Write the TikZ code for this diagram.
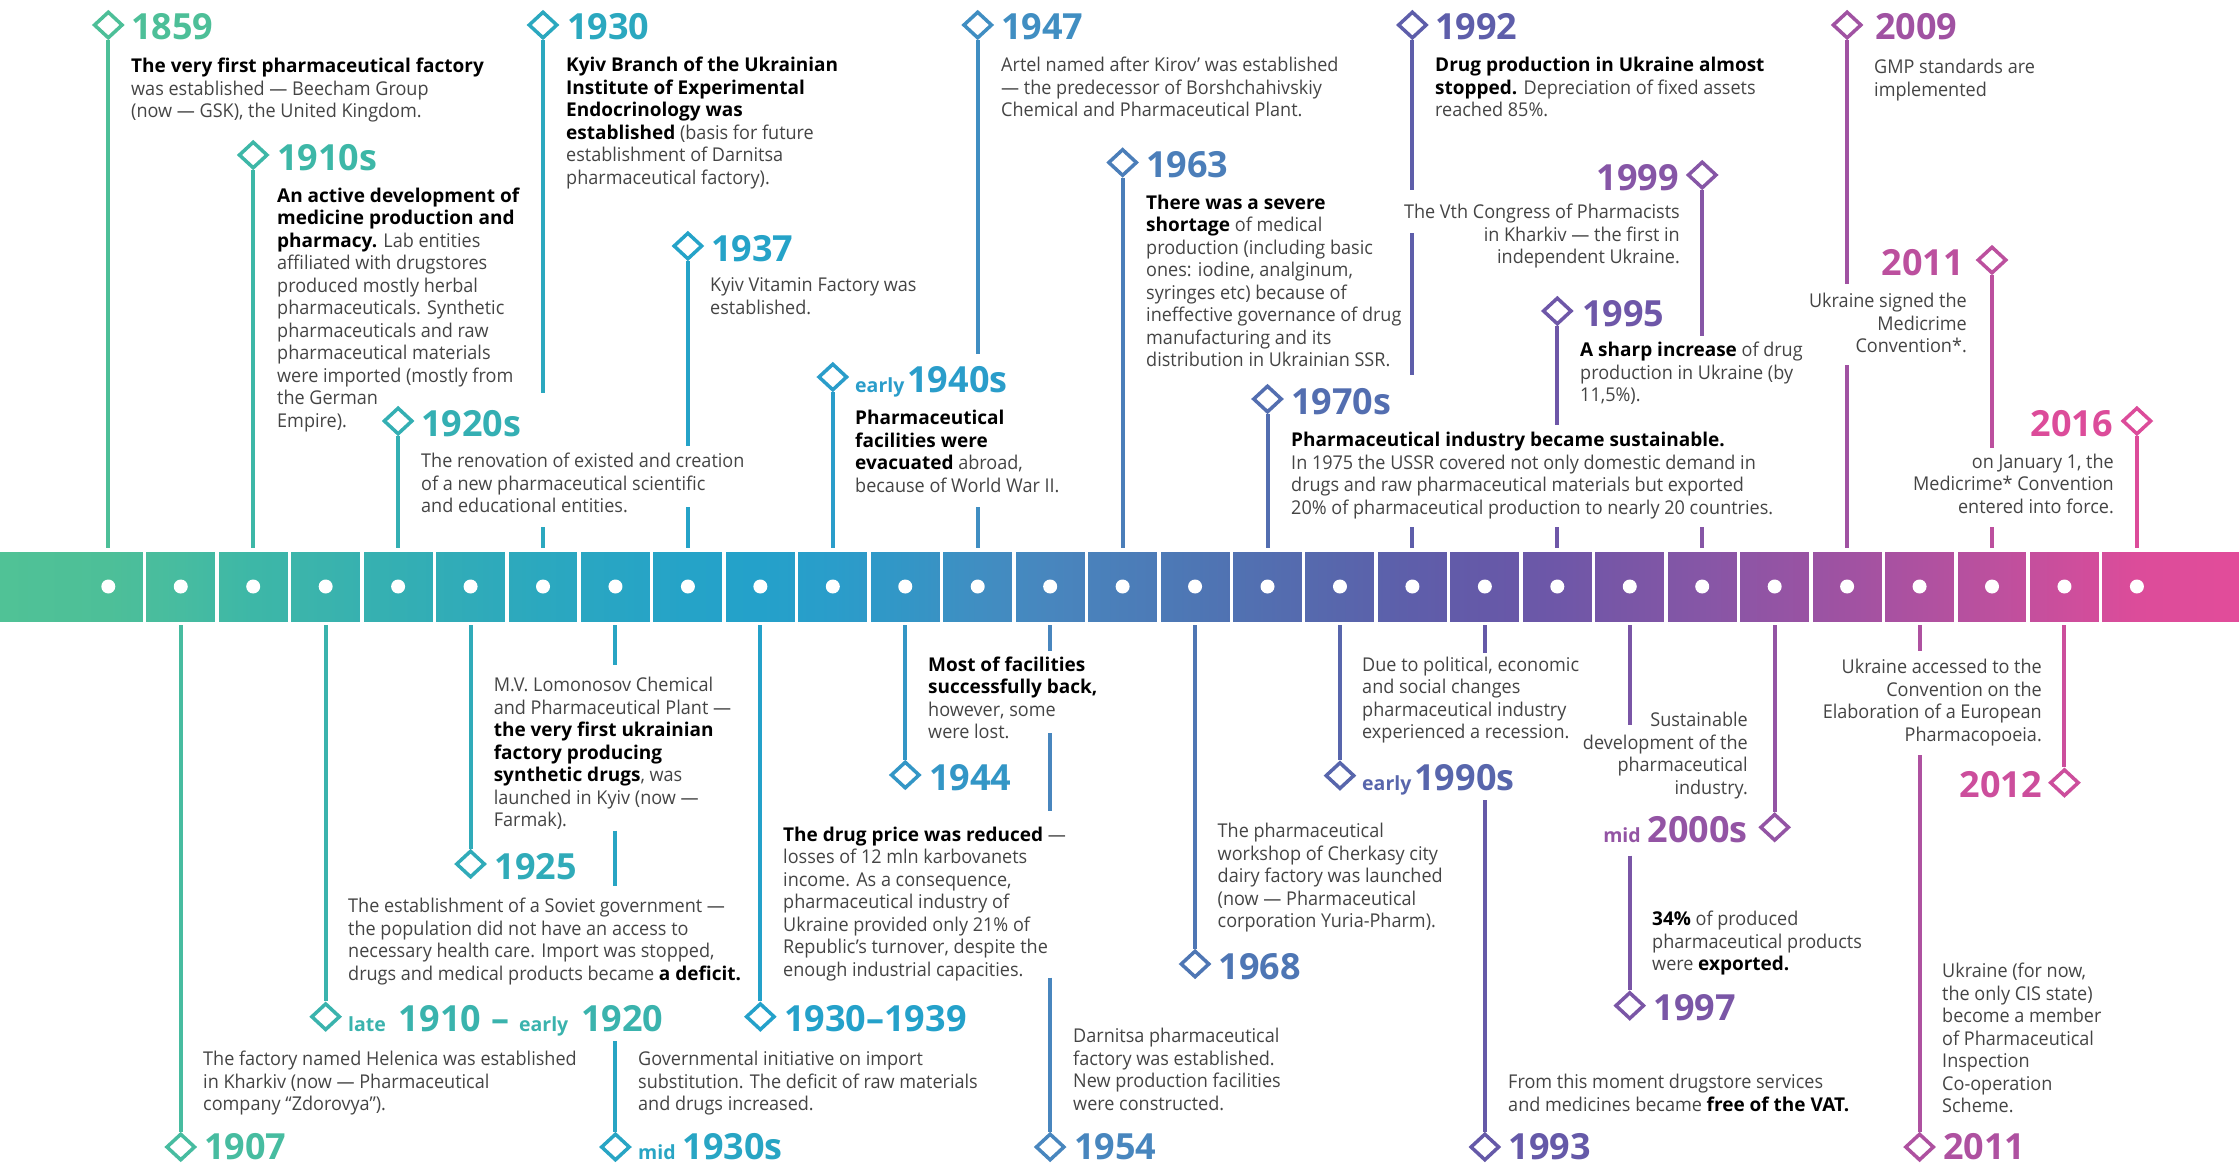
\documentclass[tikz,border=0pt]{standalone}
\usepackage{fontspec}
\setmainfont{Open Sans}[UprightFeatures={FakeStretch=0.95}]
\usetikzlibrary{shapes.geometric}
\definecolor{bodyc}{HTML}{444444}
\definecolor{cS}{HTML}{50C296}
\definecolor{cE}{HTML}{E24C9A}
\definecolor{c0}{HTML}{4DBF98}
\definecolor{c1}{HTML}{47BCA0}
\definecolor{c2}{HTML}{3DB7A7}
\definecolor{c3}{HTML}{3AB3AD}
\definecolor{c4}{HTML}{34AFB3}
\definecolor{c5}{HTML}{30ABB9}
\definecolor{c6}{HTML}{2BA8BF}
\definecolor{c7}{HTML}{28A5C4}
\definecolor{c8}{HTML}{25A3C8}
\definecolor{c9}{HTML}{24A1CA}
\definecolor{c10}{HTML}{2A9DCA}
\definecolor{c11}{HTML}{3396C6}
\definecolor{c12}{HTML}{408EC2}
\definecolor{c13}{HTML}{4886BE}
\definecolor{c14}{HTML}{4B7EB9}
\definecolor{c15}{HTML}{4E76B4}
\definecolor{c16}{HTML}{536EB0}
\definecolor{c17}{HTML}{5866AC}
\definecolor{c18}{HTML}{5E5EAA}
\definecolor{c19}{HTML}{6559A8}
\definecolor{c20}{HTML}{6E57A8}
\definecolor{c21}{HTML}{7A56A6}
\definecolor{c22}{HTML}{8656A6}
\definecolor{c23}{HTML}{9354A4}
\definecolor{c24}{HTML}{A052A2}
\definecolor{c25}{HTML}{AE51A0}
\definecolor{c26}{HTML}{BC509E}
\definecolor{c27}{HTML}{CC4E9C}
\definecolor{c28}{HTML}{DC4C9A}
\pgfdeclarehorizontalshading{bandshade}{100bp}{color(0bp)=(cS); color(25bp)=(cS);
 color(27.42bp)=(c0); color(29.04bp)=(c1); color(30.65bp)=(c2); color(32.27bp)=(c3);
 color(33.89bp)=(c4); color(35.51bp)=(c5); color(37.13bp)=(c6); color(38.74bp)=(c7);
 color(40.36bp)=(c8); color(41.98bp)=(c9); color(43.60bp)=(c10); color(45.22bp)=(c11);
 color(46.83bp)=(c12); color(48.45bp)=(c13); color(50.07bp)=(c14); color(51.69bp)=(c15);
 color(53.30bp)=(c16); color(54.92bp)=(c17); color(56.54bp)=(c18); color(58.16bp)=(c19);
 color(59.78bp)=(c20); color(61.39bp)=(c21); color(63.01bp)=(c22); color(64.63bp)=(c23);
 color(66.25bp)=(c24); color(67.87bp)=(c25); color(69.48bp)=(c26); color(71.10bp)=(c27);
 color(72.72bp)=(c28); color(75bp)=(cE); color(100bp)=(cE)}
\newcommand{\smallpre}[1]{{\fontsize{19.5}{22}\selectfont #1}}
\newcommand{\bk}[1]{\textbf{\color{black}#1}}
\tikzset{
  yr/.style={inner sep=0, anchor=base west, text depth=0pt, font=\fontsize{36}{40}\selectfont\bfseries},
  yrr/.style={yr, anchor=base east},
  txt/.style={inner sep=0, anchor=north west, align=left, font=\fontsize{19}{22.5}\selectfont, text=bodyc, execute at begin node=\strut},
  txtr/.style={txt, anchor=north east, align=right},
  dia/.style={diamond, draw, line width=3.5pt, minimum width=29pt, minimum height=27pt, inner sep=0, fill=white},
  stem/.style={line width=4pt},
}
\begin{document}
\begin{tikzpicture}[x=1pt,y=-1pt]
\useasboundingbox (0,0) rectangle (2239,1164);
% band
\shade[shading=bandshade] (0,552) rectangle (2239,621);
\foreach \k in {0,...,27} \draw[white, line width=3.5pt] ({144.5+72.45*\k},551) -- ({144.5+72.45*\k},622);
\foreach \k in {0,...,28} \fill[white] ({108.3+72.45*\k},586.5) circle (7);

% ---------- band anchor coordinates ----------
\foreach \i/\x in {0/108.3,2/253.2,4/398.1,6/543,8/687.9,10/832.8,12/977.7,14/1122.6,16/1267.5,18/1412.4,20/1557.3,22/1702.2,24/1847.1,26/1992,28/2136.9}
  \coordinate (b\i) at (\x,548);
\foreach \i/\x in {1/180.75,3/325.65,5/470.55,7/615.45,9/760.35,11/905.25,13/1050.15,15/1195.05,17/1339.95,19/1484.85,21/1629.75,23/1774.65,25/1919.55,27/2064.45}
  \coordinate (b\i) at (\x,625);

% ---------- diamonds ----------
\node[dia, draw=c0] (d0) at (108.3,25) {};
\node[dia, draw=c2] (d2) at (253.2,155) {};
\node[dia, draw=c4] (d4) at (398.1,421) {};
\node[dia, draw=c6] (d6) at (543,25) {};
\node[dia, draw=c8] (d8) at (687.9,246) {};
\node[dia, draw=c10] (d10) at (832.8,377) {};
\node[dia, draw=c12] (d12) at (977.7,25) {};
\node[dia, draw=c14] (d14) at (1122.6,162.5) {};
\node[dia, draw=c16] (d16) at (1267.5,399) {};
\node[dia, draw=c18] (d18) at (1412.4,25) {};
\node[dia, draw=c20] (d20) at (1557.3,311) {};
\node[dia, draw=c22] (d22) at (1702.2,175) {};
\node[dia, draw=c24] (d24) at (1847.1,25) {};
\node[dia, draw=c26] (d26) at (1992,260) {};
\node[dia, draw=c28] (d28) at (2136.9,421) {};
\node[dia, draw=c1] (d1) at (180.75,1147) {};
\node[dia, draw=c3] (d3) at (325.65,1016.7) {};
\node[dia, draw=c5] (d5) at (470.55,864) {};
\node[dia, draw=c7] (d7) at (615.45,1147) {};
\node[dia, draw=c9] (d9) at (760.35,1016.7) {};
\node[dia, draw=c11] (d11) at (905.25,775) {};
\node[dia, draw=c13] (d13) at (1050.15,1147) {};
\node[dia, draw=c15] (d15) at (1195.05,964) {};
\node[dia, draw=c17] (d17) at (1339.95,775.6) {};
\node[dia, draw=c19] (d19) at (1484.85,1147) {};
\node[dia, draw=c21] (d21) at (1629.75,1005.6) {};
\node[dia, draw=c23] (d23) at (1774.65,827.3) {};
\node[dia, draw=c25] (d25) at (1919.55,1147) {};
\node[dia, draw=c27] (d27) at (2064.45,782.7) {};

% ---------- gap coordinates ----------
\coordinate (g6a) at (543,393);   \coordinate (g6b) at (543,527);
\coordinate (g8a) at (687.9,446); \coordinate (g8b) at (687.9,507);
\coordinate (g12a) at (977.7,354); \coordinate (g12b) at (977.7,507);
\coordinate (g18a) at (1412.4,190); \coordinate (g18b) at (1412.4,233);
\coordinate (g18c) at (1412.4,375); \coordinate (g18d) at (1412.4,527);
\coordinate (g20a) at (1557.3,425); \coordinate (g20b) at (1557.3,527);
\coordinate (g22a) at (1702.2,336); \coordinate (g22b) at (1702.2,527);
\coordinate (g24a) at (1847.1,284); \coordinate (g24b) at (1847.1,365);
\coordinate (g26a) at (1992,448); \coordinate (g26b) at (1992,527);
\coordinate (g7a) at (615.45,665); \coordinate (g7b) at (615.45,830.5);
\coordinate (g7c) at (615.45,886); \coordinate (g7d) at (615.45,1041);
\coordinate (g13a) at (1050.15,651); \coordinate (g13b) at (1050.15,733);
\coordinate (g13c) at (1050.15,810.6); \coordinate (g13d) at (1050.15,977.7);
\coordinate (g19a) at (1484.85,652.6); \coordinate (g19b) at (1484.85,800);
\coordinate (g21a) at (1629.75,725); \coordinate (g21b) at (1629.75,855.6);
\coordinate (g25a) at (1919.55,651); \coordinate (g25b) at (1919.55,755);

% ---------- stems (top) ----------
\draw[stem, c0] (d0.south) -- (b0);
\draw[stem, c2] (d2.south) -- (b2);
\draw[stem, c4] (d4.south) -- (b4);
\draw[stem, c6] (d6.south) -- (g6a) (g6b) -- (b6);
\draw[stem, c8] (d8.south) -- (g8a) (g8b) -- (b8);
\draw[stem, c10] (d10.south) -- (b10);
\draw[stem, c12] (d12.south) -- (g12a) (g12b) -- (b12);
\draw[stem, c14] (d14.south) -- (b14);
\draw[stem, c16] (d16.south) -- (b16);
\draw[stem, c18] (d18.south) -- (g18a) (g18b) -- (g18c) (g18d) -- (b18);
\draw[stem, c20] (d20.south) -- (g20a) (g20b) -- (b20);
\draw[stem, c22] (d22.south) -- (g22a) (g22b) -- (b22);
\draw[stem, c24] (d24.south) -- (g24a) (g24b) -- (b24);
\draw[stem, c26] (d26.south) -- (g26a) (g26b) -- (b26);
\draw[stem, c28] (d28.south) -- (b28);
% ---------- stems (bottom) ----------
\draw[stem, c1] (b1) -- (d1.north);
\draw[stem, c3] (b3) -- (d3.north);
\draw[stem, c5] (b5) -- (d5.north);
\draw[stem, c7] (b7) -- (g7a) (g7b) -- (g7c) (g7d) -- (d7.north);
\draw[stem, c9] (b9) -- (d9.north);
\draw[stem, c11] (b11) -- (d11.north);
\draw[stem, c13] (b13) -- (g13a) (g13b) -- (g13c) (g13d) -- (d13.north);
\draw[stem, c15] (b15) -- (d15.north);
\draw[stem, c17] (b17) -- (d17.north);
\draw[stem, c19] (b19) -- (g19a) (g19b) -- (d19.north);
\draw[stem, c21] (b21) -- (g21a) (g21b) -- (d21.north);
\draw[stem, c23] (b23) -- (d23.north);
\draw[stem, c25] (b25) -- (g25a) (g25b) -- (d25.north);
\draw[stem, c27] (b27) -- (d27.north);

% ---------- top labels & texts ----------
\node[yr, text=c0] (y0) at (131,40) {1859};
\node[txt] (t0) at (131,58.25) {\bk{The very first pharmaceutical factory}\\was established — Beecham Group\\(now — GSK), the United Kingdom.};

\node[yr, text=c2] (y2) at (277,170) {1910s};
\node[txt] (t2) at (277,187.75) {\bk{An active development of}\\\bk{medicine production and}\\\bk{pharmacy.} Lab entities\\affiliated with drugstores\\produced mostly herbal\\pharmaceuticals. Synthetic\\pharmaceuticals and raw\\pharmaceutical materials\\were imported (mostly from\\the German\\Empire).};

\node[yr, text=c4] (y4) at (421,436) {1920s};
\node[txt] (t4) at (421,453.25) {The renovation of existed and creation\\of a new pharmaceutical scientific\\and educational entities.};

\node[yr, text=c6] (y6) at (567,40) {1930};
\node[txt] (t6) at (566,57.25) {\bk{Kyiv Branch of the Ukrainian}\\\bk{Institute of Experimental}\\\bk{Endocrinology was}\\\bk{established} (basis for future\\establishment of Darnitsa\\pharmaceutical factory).};

\node[yr, text=c8] (y8) at (711,261) {1937};
\node[txt] (t8) at (710,277.75) {Kyiv Vitamin Factory was\\established.};

\node[yr, text=c10] (y10) at (855,392) {\smallpre{early}\hspace{3pt}1940s};
\node[txt] (t10) at (855,410.25) {\bk{Pharmaceutical}\\\bk{facilities were}\\\bk{evacuated} abroad,\\because of World War II.};

\node[yr, text=c12] (y12) at (1001,40) {1947};
\node[txt] (t12) at (1001,57.25) {Artel named after Kirov’ was established\\— the predecessor of Borshchahivskiy\\Chemical and Pharmaceutical Plant.};

\node[yr, text=c14] (y14) at (1146,177.5) {1963};
\node[txt] (t14) at (1146,194.85) {\bk{There was a severe}\\\bk{shortage} of medical\\production (including basic\\ones: iodine, analginum,\\syringes etc) because of\\ineffective governance of drug\\manufacturing and its\\distribution in Ukrainian SSR.};

\node[yr, text=c16] (y16) at (1291,414) {1970s};
\node[txt] (t16) at (1291,432.25) {\bk{Pharmaceutical industry became sustainable.}\\In 1975 the USSR covered not only domestic demand in\\drugs and raw pharmaceutical materials but exported\\20\% of pharmaceutical production to nearly 20 countries.};

\node[yr, text=c18] (y18) at (1435,40) {1992};
\node[txt] (t18) at (1435,57.25) {\bk{Drug production in Ukraine almost}\\\bk{stopped.} Depreciation of fixed assets\\reached 85\%.};

\node[yr, text=c20] (y20) at (1582,326) {1995};
\node[txt] (t20) at (1580,342.25) {\bk{A sharp increase} of drug\\production in Ukraine (by\\11,5\%).};

\node[yrr, text=c22] (y22) at (1679,190) {1999};
\node[txtr] (t22) at (1680,204.25) {The Vth Congress of Pharmacists\\in Kharkiv — the first in\\independent Ukraine.};

\node[yr, text=c24] (y24) at (1875,40) {2009};
\node[txt] (t24) at (1874,59.25) {GMP standards are\\implemented};

\node[yrr, text=c26] (y26) at (1964,275) {2011};
\node[txtr] (t26) at (1967,293.25) {Ukraine signed the\\Medicrime\\Convention*.};

\node[yrr, text=c28] (y28) at (2113,436) {2016};
\node[txtr] (t28) at (2114,453.75) {on January 1, the\\Medicrime* Convention\\entered into force.};

% ---------- bottom labels & texts ----------
\node[yr, text=c1] (y1) at (204,1159) {1907};
\node[txt] (t1) at (203,1051.25) {The factory named Helenica was established\\in Kharkiv (now — Pharmaceutical\\company “Zdorovya”).};

\node[yr, text=c3] (y3) at (348,1031.7) {\smallpre{late}\hspace{13pt}1910\hspace{10pt}–\hspace{10pt}\smallpre{early}\hspace{13pt}1920};
\node[txt] (t3) at (348,898.25) {The establishment of a Soviet government —\\the population did not have an access to\\necessary health care. Import was stopped,\\drugs and medical products became \bk{a deficit.}};

\node[yr, text=c5] (y5) at (494.6,879) {1925};
\node[txt] (t5) at (493.6,677.25) {M.V. Lomonosov Chemical\\and Pharmaceutical Plant —\\\bk{the very first ukrainian}\\\bk{factory producing}\\\bk{synthetic drugs}, was\\launched in Kyiv (now —\\Farmak).};

\node[yr, text=c7] (y7) at (638,1159) {\smallpre{mid}\hspace{7pt}1930s};
\node[txt] (t7) at (638,1051.25) {Governmental initiative on import\\substitution. The deficit of raw materials\\and drugs increased.};

\node[yr, text=c9] (y9) at (784,1031.7) {1930–1939};
\node[txt] (t9) at (783,826.75) {\bk{The drug price was reduced} —\\losses of 12 mln karbovanets\\income. As a consequence,\\pharmaceutical industry of\\Ukraine provided only 21\% of\\Republic’s turnover, despite the\\enough industrial capacities.};

\node[yr, text=c11] (y11) at (929,790) {1944};
\node[txt] (t11) at (928,656.75) {\bk{Most of facilities}\\\bk{successfully back,}\\however, some\\were lost.};

\node[yr, text=c13] (y13) at (1074,1159) {1954};
\node[txt] (t13) at (1073,1028.25) {Darnitsa pharmaceutical\\factory was established.\\New production facilities\\were constructed.};

\node[yr, text=c15] (y15) at (1218.6,979) {1968};
\node[txt] (t15) at (1217.5,823.25) {The pharmaceutical\\workshop of Cherkasy city\\dairy factory was launched\\(now — Pharmaceutical\\corporation Yuria-Pharm).};

\node[yr, text=c17] (y17) at (1362,790.6) {\smallpre{early}\hspace{3pt}1990s};
\node[txt] (t17) at (1362,656.75) {Due to political, economic\\and social changes\\pharmaceutical industry\\experienced a recession.};

\node[yr, text=c19] (y19) at (1508.6,1159) {1993};
\node[txt] (t19) at (1508,1074.25) {From this moment drugstore services\\and medicines became \bk{free of the VAT.}};

\node[yr, text=c21] (y21) at (1653.5,1020.6) {1997};
\node[txt] (t21) at (1652,911.25) {\bk{34\%} of produced\\pharmaceutical products\\were \bk{exported.}};

\node[yrr, text=c23] (y23) at (1748,842.3) {\smallpre{mid}\hspace{7pt}2000s};
\node[txtr] (t23) at (1748,712.25) {Sustainable\\development of the\\pharmaceutical\\industry.};

\node[yr, text=c25] (y25) at (1943,1159) {2011};
\node[txt] (t25) at (1942,963.25) {Ukraine (for now,\\the only CIS state)\\become a member\\of Pharmaceutical\\Inspection\\Co-operation\\Scheme.};

\node[yrr, text=c27] (y27) at (2042,797.7) {2012};
\node[txtr] (t27) at (2042,659.25) {Ukraine accessed to the\\Convention on the\\Elaboration of a European\\Pharmacopoeia.};
\end{tikzpicture}
\end{document}
